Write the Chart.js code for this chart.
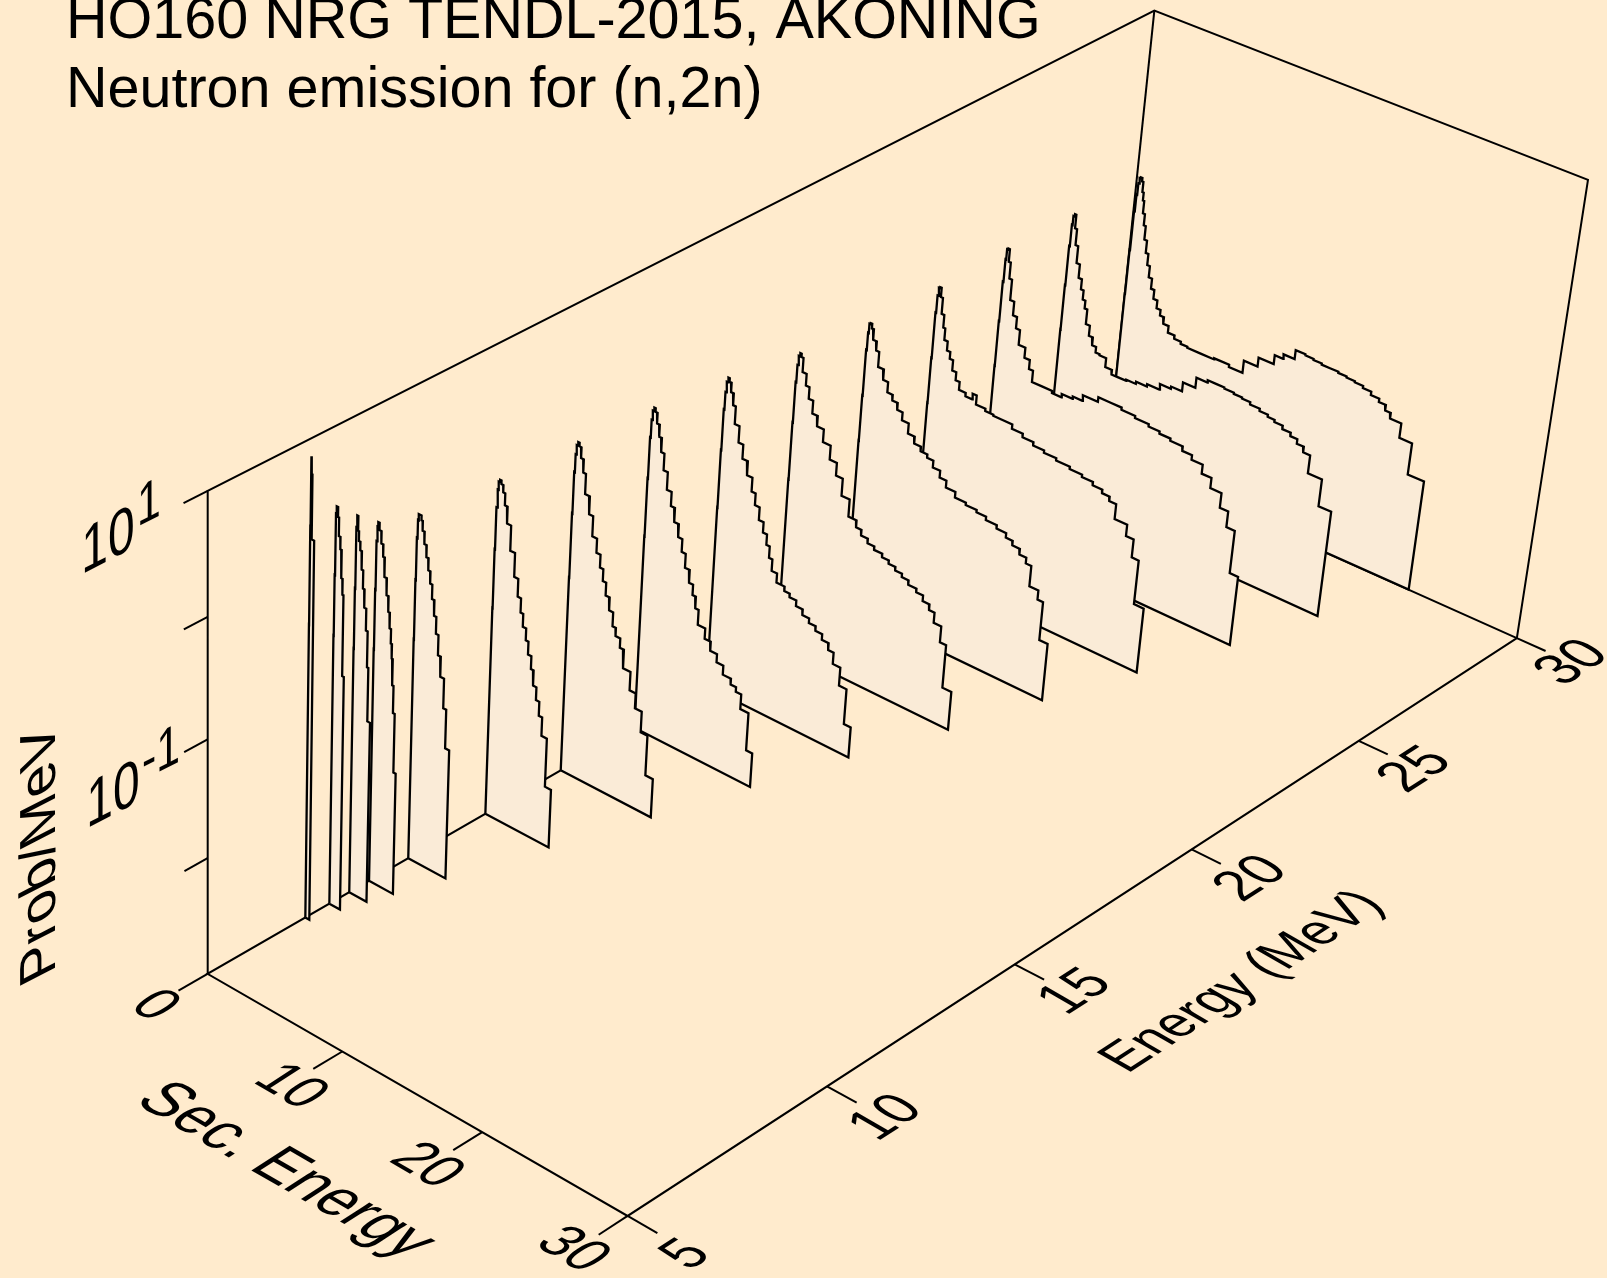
<!DOCTYPE html>
<html>
<head>
<meta charset="utf-8">
<title>HO160 neutron emission</title>
<script src="https://cdn.jsdelivr.net/npm/chart.js@4"></script>
<style>
  html, body { margin: 0; padding: 0; background: #FFEBCD; overflow: hidden; }
  canvas { display: block; }
</style>
</head>
<body>
<canvas id="chart" width="1607" height="1278"></canvas>
<script>
// incident energies (MeV)
const energies = [7.4, 8, 8.5, 9, 10, 12, 14, 16, 18, 20, 22, 24, 26, 28, 30];

// one list per incident energy: [upper bin edge in MeV, log10(Prob/MeV)]
const e7p4 = [[.01,-.5],[.03,.3],[.06,.86],[.12,.72],[.3,.2]];
const e8 = [[.02,-.7],[.05,-.2],[.1,.3],[.2,.36],[.28,.28],[.4,.13],[.5,.03],[.6,-.2],[.68,-.33],[.8,-1]];
const e8p5 = [[.02,-.9],[.05,-.4],[.1,.1],[.18,.2],[.25,.08],[.36,0],[.48,-.07],[.6,-.22],[.72,-.37],[.87,-.52],[1,-.7],[1.1,-1],[1.3,-1.45]];
const e9 = [[.02,-1],[.05,-.5],[.1,-.1],[.15,.02],[.25,.06],[.4,0],[.55,-.1],[.67,-.2],[.85,-.36],[1,-.5],[1.12,-.63],[1.23,-.76],[1.32,-.88],[1.4,-1],[1.5,-1.22],[1.63,-1.45],[1.8,-1.95]];
const e10 = [[.02,-1.1],[.05,-.6],[.1,-.25],[.15,-.1],[.25,-.05],[.35,-.05],[.45,-.09],[.6,-.17],[.77,-.27],[.93,-.37],[1.09,-.47],[1.25,-.57],[1.43,-.69],[1.6,-.82],[1.79,-.96],[2,-1.13],[2.28,-1.3],[2.5,-1.55],[2.8,-1.88]];
const e12 = [[.02,-1.2],[.05,-.7],[.1,-.35],[.15,-.2],[.25,-.13],[.35,-.11],[.5,-.14],[.65,-.2],[.85,-.3],[1.15,-.44],[1.5,-.65],[1.8,-.85],[2.05,-1],[2.25,-1.12],[2.5,-1.23],[2.7,-1.33],[2.95,-1.44],[3.15,-1.55],[3.4,-1.68],[3.65,-1.79],[3.9,-1.91],[4.3,-2.07],[4.75,-2.49]];
const e14 = [[.02,-1.3],[.05,-.75],[.1,-.4],[.15,-.25],[.25,-.17],[.35,-.14],[.5,-.17],[.7,-.26],[.9,-.37],[1.25,-.54],[1.55,-.69],[1.9,-.86],[2.2,-.98],[2.45,-1.09],[2.7,-1.19],[3,-1.3],[3.3,-1.41],[3.55,-1.53],[3.9,-1.6],[4.2,-1.68],[4.75,-1.84],[5.2,-2],[5.7,-2.13],[6.2,-2.31],[6.75,-2.66]];
const e16 = [[.02,-1.3],[.05,-.8],[.1,-.45],[.15,-.3],[.25,-.22],[.35,-.19],[.5,-.22],[.7,-.31],[.9,-.41],[1.14,-.53],[1.45,-.67],[1.8,-.82],[2.1,-.94],[2.44,-1.06],[2.75,-1.17],[3.05,-1.28],[3.4,-1.4],[3.7,-1.51],[3.95,-1.6],[4.2,-1.7],[4.75,-1.83],[5.2,-1.92],[5.7,-2],[6.2,-2.07],[6.8,-2.15],[7.2,-2.2],[7.6,-2.24],[8.2,-2.37],[8.65,-2.7]];
const e18 = [[.02,-1.4],[.05,-.9],[.1,-.55],[.15,-.4],[.25,-.31],[.35,-.27],[.5,-.3],[.7,-.38],[.9,-.48],[1.25,-.63],[1.6,-.77],[2,-.89],[2.4,-1.01],[2.7,-1.13],[3.05,-1.23],[3.4,-1.34],[3.7,-1.43],[3.95,-1.52],[4.2,-1.62],[4.6,-1.72],[5.2,-1.8],[5.6,-1.84],[6.1,-1.87],[6.6,-1.92],[7.1,-1.97],[7.6,-2.01],[8.1,-2.05],[8.6,-2.1],[9,-2.16],[9.55,-2.26],[10.1,-2.42],[10.6,-2.73]];
const e20 = [[.02,-1.5],[.05,-1],[.1,-.65],[.15,-.5],[.25,-.42],[.35,-.39],[.5,-.42],[.8,-.54],[1.07,-.64],[1.4,-.74],[1.8,-.85],[2.3,-.94],[2.87,-1.05],[3.4,-1.17],[3.9,-1.28],[4.5,-1.43],[5.1,-1.58],[5.5,-1.64],[6,-1.69],[6.5,-1.73],[7.1,-1.76],[7.6,-1.79],[8.1,-1.82],[8.6,-1.85],[9.1,-1.88],[9.7,-1.92],[10.2,-1.95],[10.7,-2],[11.1,-2.05],[11.65,-2.14],[12.1,-2.28],[12.75,-2.66]];
const e22 = [[.02,-1.5],[.05,-1.1],[.1,-.7],[.15,-.55],[.25,-.47],[.35,-.46],[.5,-.5],[.77,-.59],[1,-.67],[1.43,-.8],[1.8,-.89],[2.2,-.98],[2.6,-1.03],[3,-1.09],[3.5,-1.16],[4,-1.25],[4.5,-1.31],[5,-1.35],[5.46,-1.38],[6,-1.44],[6.5,-1.5],[7.2,-1.56],[8,-1.61],[8.8,-1.63],[9.5,-1.65],[10.3,-1.68],[11,-1.71],[11.5,-1.75],[12.05,-1.79],[12.55,-1.84],[12.95,-1.89],[13.6,-2.07],[14,-2.15],[14.6,-2.49]];
const e24 = [[.02,-1.5],[.05,-1.1],[.1,-.7],[.15,-.55],[.25,-.48],[.35,-.47],[.5,-.55],[.7,-.69],[.85,-.8],[1.1,-.9],[1.35,-.98],[1.6,-1.04],[1.9,-1.13],[2.2,-1.2],[2.7,-1.27],[3.2,-1.3],[3.5,-1.25],[4.2,-1.33],[4.8,-1.35],[5.4,-1.36],[6.2,-1.36],[7,-1.4],[7.8,-1.43],[8.6,-1.46],[9.5,-1.48],[10.5,-1.5],[11.4,-1.52],[12.2,-1.54],[12.9,-1.57],[13.45,-1.6],[13.95,-1.64],[14.85,-1.77],[15.4,-1.87],[15.9,-2.03],[16.6,-2.42]];
const e26 = [[.02,-1.5],[.05,-1.1],[.1,-.75],[.15,-.55],[.25,-.46],[.35,-.45],[.5,-.56],[.7,-.7],[1,-.88],[1.3,-1],[1.6,-1.1],[2.1,-1.23],[2.5,-1.32],[2.8,-1.4],[3.5,-1.5],[4.3,-1.5],[5,-1.52],[5.8,-1.49],[6.5,-1.47],[7.6,-1.42],[8.5,-1.38],[9.3,-1.38],[10.3,-1.4],[11.3,-1.42],[12.1,-1.44],[12.9,-1.46],[13.8,-1.48],[14.5,-1.52],[15.3,-1.56],[16,-1.64],[16.8,-1.73],[17.4,-1.86],[18,-2],[18.6,-2.38]];
const e28 = [[.02,-1.5],[.05,-1.1],[.1,-.75],[.15,-.56],[.25,-.48],[.35,-.46],[.5,-.58],[.7,-.72],[.95,-.87],[1.2,-.99],[1.4,-1.08],[1.6,-1.16],[1.8,-1.23],[2.1,-1.36],[2.4,-1.45],[2.7,-1.52],[3,-1.57],[3.5,-1.58],[4,-1.66],[4.5,-1.7],[5.1,-1.7],[5.8,-1.69],[6.6,-1.67],[7.5,-1.65],[8.3,-1.6],[9.1,-1.58],[10,-1.5],[10.8,-1.41],[11.4,-1.39],[12,-1.39],[12.7,-1.4],[13.3,-1.41],[13.9,-1.42],[14.6,-1.44],[15.2,-1.46],[15.7,-1.48],[16.3,-1.5],[16.9,-1.53],[17.4,-1.56],[17.9,-1.6],[18.4,-1.65],[19.4,-1.81],[20.3,-2.05]];
const e30 = [[.02,-1.5],[.05,-1.1],[.1,-.75],[.15,-.6],[.2,-.5],[.3,-.45],[.4,-.44],[.5,-.47],[.6,-.56],[.7,-.63],[.85,-.74],[1,-.84],[1.2,-.96],[1.4,-1.07],[1.6,-1.17],[1.85,-1.27],[2.1,-1.36],[2.4,-1.44],[2.7,-1.51],[3,-1.56],[3.4,-1.62],[3.9,-1.68],[4.4,-1.71],[4.9,-1.73],[5.9,-1.74],[6.9,-1.74],[8,-1.73],[9,-1.75],[10,-1.64],[11.1,-1.56],[11.7,-1.48],[12.5,-1.44],[13.2,-1.36],[13.8,-1.37],[14.4,-1.38],[15,-1.39],[15.6,-1.39],[16.2,-1.4],[16.8,-1.41],[17.4,-1.42],[18,-1.44],[18.6,-1.47],[19.1,-1.5],[19.5,-1.55],[20.3,-1.6],[21.2,-1.73],[22.35,-2.01]];
const spectra = [e7p4, e8, e8p5, e9, e10, e12, e14, e16, e18, e20, e22, e24, e26, e28, e30];

// axis ticks
const secTicks = [0, 10, 20, 30];
const energyTicks = [5, 10, 15, 20, 25, 30];
const probTicks = [1, 0, -1, -2];

const secMax = 30, eMin = 5, eMax = 30, logMin = -3, logMax = 1;

// box corners and axis ticks as they sit in the picture, used to fit the camera
const calibration = [
  [0, 5, -3, 208, 973.6], [0, 5, -2, 208, 858.6], [0, 5, -1, 208, 739.6], [0, 5, 0, 208, 616.4], [0, 5, 1, 208, 491],
  [10, 5, -3, 342, 1051.7], [20, 5, -3, 481, 1132.7], [30, 5, -3, 626.5, 1216],
  [30, 10, -3, 826.8, 1086.7], [30, 15, -3, 1014.6, 963.4], [30, 20, -3, 1194, 848.6], [30, 25, -3, 1358, 740], [30, 30, -3, 1516.8, 637.5],
  [30, 30, 1, 1588.6, 182.4], [0, 30, 1, 1153, 8.2], [0, 30, -3, 1108, 457]
];

function unit(sec, e, log) {
  return [sec / secMax, (e - eMin) / (eMax - eMin), (log - logMin) / (logMax - logMin)];
}

// least squares fit of a 3x4 projection matrix
function fitCamera(rows) {
  const n = 11;
  const A = Array.from({ length: n }, () => new Array(n + 1).fill(0));
  const add = (r, b) => {
    for (let i = 0; i < n; i++) {
      for (let j = 0; j < n; j++) A[i][j] += r[i] * r[j];
      A[i][n] += r[i] * b;
    }
  };
  rows.forEach(c => {
    const [u, v, w] = unit(c[0], c[1], c[2]);
    const x = c[3] / 1000, y = c[4] / 1000;
    add([u, v, w, 1, 0, 0, 0, 0, -x * u, -x * v, -x * w], x);
    add([0, 0, 0, 0, u, v, w, 1, -y * u, -y * v, -y * w], y);
  });
  for (let i = 0; i < n; i++) {
    let p = i;
    for (let k = i + 1; k < n; k++) if (Math.abs(A[k][i]) > Math.abs(A[p][i])) p = k;
    [A[i], A[p]] = [A[p], A[i]];
    for (let k = 0; k < n; k++) {
      if (k === i) continue;
      const f = A[k][i] / A[i][i];
      for (let j = i; j <= n; j++) A[k][j] -= f * A[i][j];
    }
  }
  return A.map((row, i) => row[n] / row[i]);
}

const cam = fitCamera(calibration);

function project(sec, e, log) {
  const [u, v, w] = unit(sec, e, log);
  const d = cam[8] * u + cam[9] * v + cam[10] * w + 1;
  return {
    x: 1000 * (cam[0] * u + cam[1] * v + cam[2] * w + cam[3]) / d,
    y: 1000 * (cam[4] * u + cam[5] * v + cam[6] * w + cam[7]) / d
  };
}

function outline(e, bins) {
  const pts = [project(0, e, logMin)];
  let left = 0;
  bins.forEach(b => {
    pts.push(project(left, e, b[1]));
    pts.push(project(b[0], e, b[1]));
    left = b[0];
  });
  pts.push(project(left, e, logMin));
  pts.push(pts[0]);
  return pts;
}

function lineSet(data, extra) {
  return Object.assign({
    data,
    showLine: true,
    borderColor: '#000',
    borderWidth: 2,
    pointRadius: 0,
    tension: 0,
    fill: false,
    borderJoinStyle: 'miter'
  }, extra);
}

const datasets = [];

// front curves come first, they are painted last
spectra.forEach((bins, i) => {
  datasets.push(lineSet(outline(energies[i], bins), { curve: true, borderWidth: 2.3, label: 'E=' + energies[i] }));
});

// frame
datasets.push(lineSet([project(0, eMin, logMin), project(0, eMin, logMax), project(0, eMax, logMax), project(secMax, eMax, logMax), project(secMax, eMax, logMin), project(secMax, eMin, logMin), project(0, eMin, logMin), project(0, eMax, logMin), project(secMax, eMax, logMin)]));
datasets.push(lineSet([project(0, eMax, logMax), project(0, eMax, logMin)]));

secTicks.forEach(t => datasets.push(lineSet([project(t, eMin, logMin), project(t, eMin - 0.7, logMin)])));
energyTicks.forEach(t => datasets.push(lineSet([project(secMax, t, logMin), project(secMax + 2, t, logMin)])));
probTicks.forEach(t => datasets.push(lineSet([project(0, eMin, t), project(0, eMin - 0.55, t)])));

const secDir = [0.865, 0.50];
const energyDir = [0.839, -0.545];
const wallDir = [0.89, -0.455];
const secUp = [0.96, -0.62];
const energyUp = [-0.99, -0.57];
const wallUp = [0, -1.2];

// x y, text, baseline direction, up direction, size
const labels = [
  [154, 1006, '0', secDir, secUp, 52],
  [290, 1087, '10', secDir, secUp, 52],
  [426, 1166, '20', secDir, secUp, 52],
  [572, 1250, '30', secDir, secUp, 52],
  [285, 1171, 'Sec. Energy', secDir, secUp, 58],
  [687, 1255, '5', energyDir, energyUp, 52],
  [887, 1118, '10', energyDir, energyUp, 52],
  [1076, 992, '15', energyDir, energyUp, 52],
  [1252, 879, '20', energyDir, energyUp, 52],
  [1416, 770, '25', energyDir, energyUp, 52],
  [1573, 663, '30', energyDir, energyUp, 52],
  [1243, 982, 'Energy (MeV)', energyDir, energyUp, 50],
  [108, 543, '10', wallDir, wallUp, 54],
  [149, 505, '1', wallDir, wallUp, 48],
  [113, 797, '10', wallDir, wallUp, 54],
  [161, 755, '-1', wallDir, wallUp, 48],
  [41, 853, 'Prob/MeV', [0, -1], [-0.89, 0.455], 57]
];

const titleLines = ['HO160 NRG TENDL-2015, AKONING', 'Neutron emission for (n,2n)'];

const scenePlugin = {
  id: 'scene',
  beforeDraw(chart) {
    const ctx = chart.ctx;
    ctx.save();
    ctx.fillStyle = '#FFEBCD';
    ctx.fillRect(0, 0, chart.width, chart.height);
    ctx.restore();
  },
  // the spectra are opaque sheets, so each is filled just before its outline
  beforeDatasetDraw(chart, args) {
    const ds = chart.data.datasets[args.index];
    if (!ds.curve) return;
    const pts = chart.getDatasetMeta(args.index).data;
    const ctx = chart.ctx;
    ctx.save();
    ctx.beginPath();
    pts.forEach((p, i) => (i ? ctx.lineTo(p.x, p.y) : ctx.moveTo(p.x, p.y)));
    ctx.closePath();
    ctx.fillStyle = '#FAEBD7';
    ctx.fill();
    ctx.restore();
  },
  afterDraw(chart) {
    const ctx = chart.ctx;
    ctx.save();
    ctx.fillStyle = '#000';
    ctx.textAlign = 'center';
    ctx.textBaseline = 'middle';
    labels.forEach(l => {
      const [x, y, text, b, u, size] = l;
      ctx.save();
      ctx.transform(b[0], b[1], -u[0], -u[1], x, y);
      ctx.font = size + 'px "Liberation Sans"';
      ctx.fillText(text, 0, 0);
      ctx.restore();
    });
    ctx.textAlign = 'left';
    ctx.textBaseline = 'alphabetic';
    ctx.font = '57.5px "Liberation Sans"';
    ctx.fillText(titleLines[0], 66, 38);
    ctx.fillText(titleLines[1], 66, 107);
    ctx.restore();
  }
};

new Chart(document.getElementById('chart'), {
  type: 'scatter',
  data: { datasets },
  options: {
    responsive: false,
    animation: false,
    layout: { padding: 0 },
    scales: {
      x: { type: 'linear', min: 0, max: 1607, display: false },
      y: { type: 'linear', min: 0, max: 1278, reverse: true, display: false }
    },
    plugins: { legend: { display: false }, tooltip: { enabled: false } }
  },
  plugins: [scenePlugin]
});
</script>
</body>
</html>
